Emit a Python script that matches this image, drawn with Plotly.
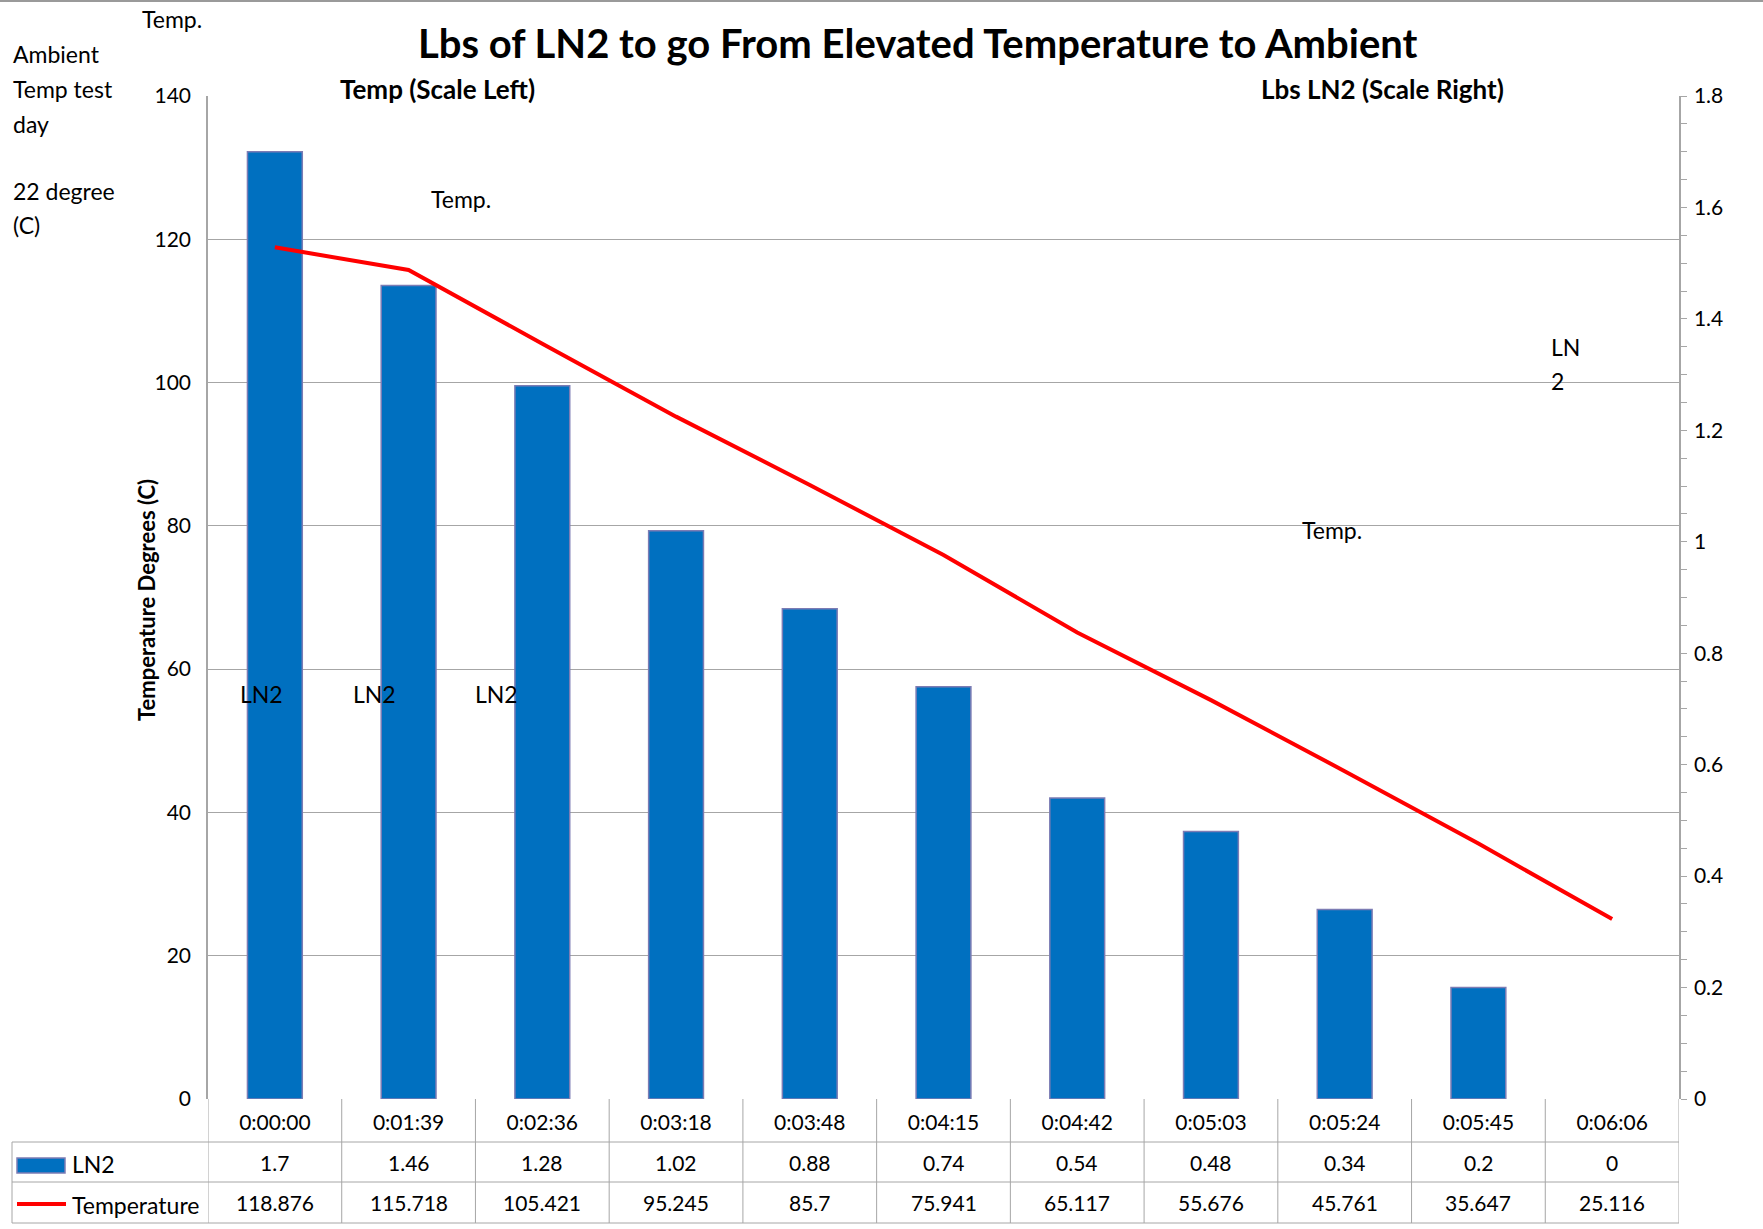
import plotly.graph_objects as go

# ---- data ----
times = ["0:00:00", "0:01:39", "0:02:36", "0:03:18", "0:03:48", "0:04:15",
         "0:04:42", "0:05:03", "0:05:24", "0:05:45", "0:06:06"]
ln2_lbs = [1.7, 1.46, 1.28, 1.02, 0.88, 0.74, 0.54, 0.48, 0.34, 0.2, 0]
temperature = [118.876, 115.718, 105.421, 95.245, 85.7, 75.941, 65.117,
               55.676, 45.761, 35.647, 25.116]
ln2_labels = ["1.7", "1.46", "1.28", "1.02", "0.88", "0.74", "0.54", "0.48",
              "0.34", "0.2", "0"]
temp_labels = ["118.876", "115.718", "105.421", "95.245", "85.7", "75.941",
               "65.117", "55.676", "45.761", "35.647", "25.116"]

# ---- layout geometry (pixels) ----
W, H = 1763, 1229
L, R, T, B = 208, 84, 96, 130
PW = W - L - R
PH = H - T - B
FONT = "Lato"
GRID = "#A6A6A6"
NUM = 21    # numeric text size
WORD = 23   # word text size


def px(x):
    return (x - L) / PW


def py(y):
    return (H - B - y) / PH


fig = go.Figure()

fig.add_trace(go.Bar(
    x=times, y=ln2_lbs, yaxis="y", name="LN2", width=0.41,
    marker=dict(color="#0070C0",
                line=dict(color="#7C7CB4", width=[1.5 if v > 0 else 0 for v in ln2_lbs])),
))
fig.add_trace(go.Scatter(
    x=times, y=temperature, yaxis="y2", name="Temperature", mode="lines",
    line=dict(color="#FF0000", width=4),
))

annotations = []
shapes = []

# Data table rows
row1_top, row2_top, row3_top, row3_bot = 1099, 1142, 1182, 1223
for i, t in enumerate(times):
    annotations.append(dict(x=t, xref="x", y=py((row2_top + row3_top) / 2), yref="paper",
                            text=ln2_labels[i], showarrow=False, xanchor="center",
                            yanchor="middle", font=dict(family=FONT, size=NUM, color="#000")))
    annotations.append(dict(x=t, xref="x", y=py((row3_top + row3_bot) / 2), yref="paper",
                            text=temp_labels[i], showarrow=False, xanchor="center",
                            yanchor="middle", font=dict(family=FONT, size=NUM, color="#000")))
# vertical separators
for i in range(len(times) + 1):
    shapes.append(dict(type="line", xref="x", yref="paper", x0=i - 0.5, x1=i - 0.5,
                       y0=py(row1_top), y1=py(row3_bot), line=dict(color=GRID, width=1)))
# horizontal lines
for yy in (row2_top, row3_top, row3_bot):
    shapes.append(dict(type="line", xref="paper", yref="paper", x0=px(12), x1=1,
                       y0=py(yy), y1=py(yy), line=dict(color=GRID, width=1)))
shapes.append(dict(type="line", xref="paper", yref="paper", x0=px(12), x1=px(12),
                   y0=py(row2_top), y1=py(row3_bot), line=dict(color=GRID, width=1)))
# legend keys in table
shapes.append(dict(type="rect", xref="paper", yref="paper", x0=px(17), x1=px(65),
                   y0=py(1173), y1=py(1158), fillcolor="#0070C0",
                   line=dict(color="#7C7CB4", width=1.5)))
shapes.append(dict(type="line", xref="paper", yref="paper", x0=px(17), x1=px(66),
                   y0=py(1204), y1=py(1204), line=dict(color="#FF0000", width=4)))
annotations.append(dict(x=px(70), y=py(1164), xref="paper", yref="paper", text="LN2",
                        showarrow=False, xanchor="left", yanchor="middle",
                        font=dict(family=FONT, size=WORD, color="#000")))
annotations.append(dict(x=px(70), y=py(1205), xref="paper", yref="paper", text="Temperature",
                        showarrow=False, xanchor="left", yanchor="middle",
                        font=dict(family=FONT, size=WORD, color="#000")))
# top border of chart
shapes.append(dict(type="line", xref="paper", yref="paper", x0=px(0), x1=px(W),
                   y0=py(1), y1=py(1), line=dict(color="#9A9A9A", width=2)))


def note(text, x, y, anchor="center", size=WORD, bold=False):
    annotations.append(dict(x=px(x), y=py(y), xref="paper", yref="paper",
                            text=f"<b>{text}</b>" if bold else text, showarrow=False,
                            xanchor=anchor, yanchor="middle",
                            font=dict(family=FONT, size=size, color="#000")))


note("Lbs of LN2 to go From Elevated Temperature to Ambient", 918, 43, size=40, bold=True)
note("Temp (Scale Left)", 437, 89, size=26, bold=True)
note("Lbs LN2 (Scale Right)", 1382, 89, size=26, bold=True)
note("Temp.", 140, 19, anchor="left")
for txt, yy in (("Ambient", 54), ("Temp test", 89), ("day", 124),
                ("22 degree", 191), ("(C)", 225)):
    note(txt, 11, yy, anchor="left")
note("Temp.", 461, 199)
note("Temp.", 1332, 530)
note("LN", 1549, 347, anchor="left")
note("2", 1549, 381, anchor="left")
for xx in (261, 374, 496):
    note("LN2", xx, 694)
annotations.append(dict(x=px(146), y=py(600), xref="paper", yref="paper",
                        text="<b>Temperature Degrees (C)</b>", textangle=-90,
                        showarrow=False, xanchor="center", yanchor="middle",
                        font=dict(family=FONT, size=22, color="#000")))

fig.update_layout(
    width=W, height=H,
    margin=dict(l=L, r=R, t=T, b=B, pad=0),
    paper_bgcolor="white", plot_bgcolor="white",
    showlegend=False, hovermode=False,
    font=dict(family=FONT, size=NUM, color="#000"),
    xaxis=dict(type="category", categoryorder="array", categoryarray=times,
               range=[-0.5, len(times) - 0.5], showgrid=False, zeroline=False,
               showline=False, ticks="outside", ticklen=5,
               tickcolor="rgba(0,0,0,0)", tickfont=dict(family=FONT, size=NUM)),
    yaxis=dict(side="right", range=[0, 1.8], dtick=0.2, tick0=0, showgrid=False,
               zeroline=False, showline=True, linecolor=GRID, linewidth=1.5,
               ticks="outside", ticklen=6, tickcolor=GRID,
               minor=dict(dtick=0.05, ticks="outside", ticklen=6, tickcolor=GRID),
               ticklabelstandoff=3,
               tickfont=dict(family=FONT, size=NUM)),
    yaxis2=dict(overlaying="y", side="left", anchor="x", range=[0, 140], dtick=20,
                showgrid=True, gridcolor=GRID, gridwidth=1, zeroline=False,
                showline=True, linecolor=GRID, linewidth=1.5, ticks="outside",
                ticklen=11, tickcolor="rgba(0,0,0,0)",
                tickfont=dict(family=FONT, size=NUM)),
    annotations=annotations,
    shapes=shapes,
)

fig.write_html("out.html", config={"displayModeBar": False},
               post_script="document.body.style.margin='0';")
